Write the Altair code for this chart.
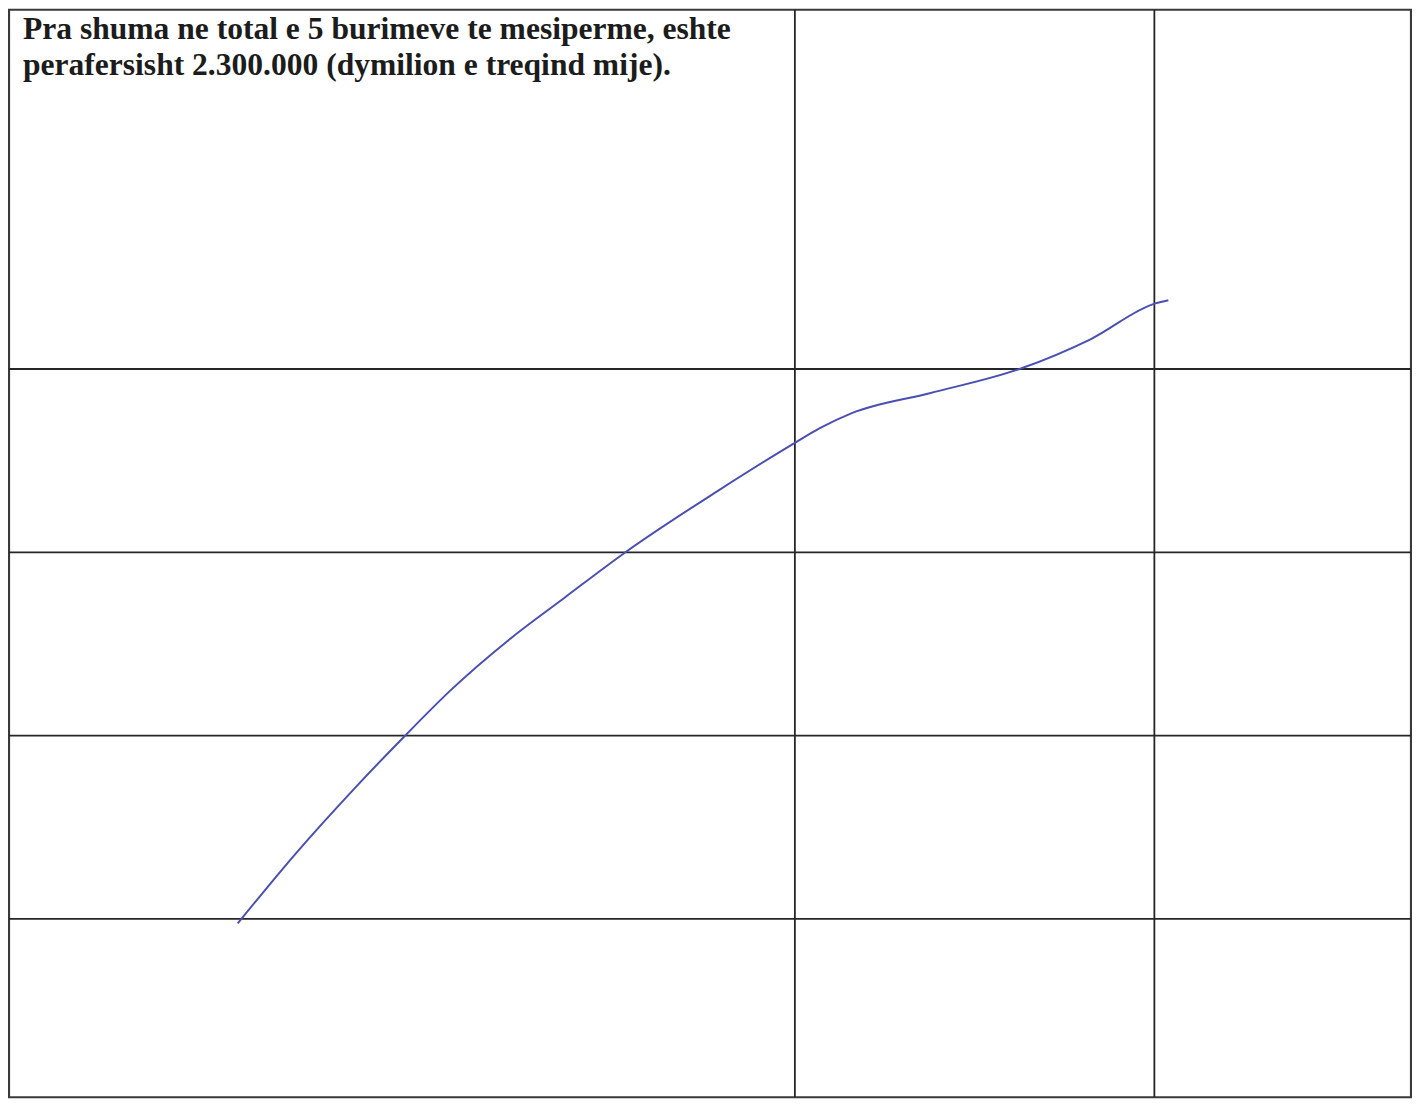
import altair as alt
import pandas as pd

# Hand-drawn curve (grid units)
curve_x = [22.9, 28.8, 34.4, 39.76, 44.16, 50.3, 55.6, 61.77, 70.95, 78.7,
           81.2, 84.4, 92.2, 101.4, 108.3, 114.8, 116.1]
curve_y = [0.975, 1.362, 1.700, 2.005, 2.244, 2.533, 2.751, 3.002, 3.334, 3.597,
           3.677, 3.759, 3.868, 4.004, 4.162, 4.358, 4.375]

# Grid lines drawn on the page
grid_x = [78.7, 114.7]
grid_y = [1, 2, 3, 4]

text_lines = [
    "Pra shuma ne total e 5 burimeve te mesiperme, eshte",
    "perafersisht 2.300.000 (dymilion e treqind mije).",
]

W, H = 1404, 1089
xs = alt.Scale(domain=[0, 140.4], nice=False, zero=False)
ys = alt.Scale(domain=[0.027, 5.96], nice=False, zero=False)

curve_df = pd.DataFrame({"x": curve_x, "y": curve_y})
gx_df = pd.DataFrame({"x": grid_x})
gy_df = pd.DataFrame({"y": grid_y})

vlines = alt.Chart(gx_df).mark_rule(color="#262626", strokeWidth=1.8).encode(
    x=alt.X("x:Q", scale=xs, axis=None)
)
hlines = alt.Chart(gy_df).mark_rule(color="#262626", strokeWidth=1.8).encode(
    y=alt.Y("y:Q", scale=ys, axis=None)
)
line = alt.Chart(curve_df).mark_line(
    color="#4a4fb3", strokeWidth=2, interpolate="monotone"
).encode(
    x=alt.X("x:Q", scale=xs, axis=None),
    y=alt.Y("y:Q", scale=ys, axis=None),
)

text_style = dict(align="left", baseline="alphabetic", font="Liberation Serif",
                  fontSize=31.6, fontWeight="bold", color="#1c1c1c")
t1 = alt.Chart(pd.DataFrame({"t": [text_lines[0]]})).mark_text(**text_style).encode(
    x=alt.value(14), y=alt.value(29), text="t:N")
t2 = alt.Chart(pd.DataFrame({"t": [text_lines[1]]})).mark_text(**text_style).encode(
    x=alt.value(14), y=alt.value(65), text="t:N")

chart = alt.layer(vlines, hlines, line, t1, t2).properties(
    width=W, height=H, padding=0, background="white"
).configure_view(stroke="#3a3a3a", strokeWidth=2.2)

chart.save("out.html", embed_options={"renderer": "svg", "actions": False})
